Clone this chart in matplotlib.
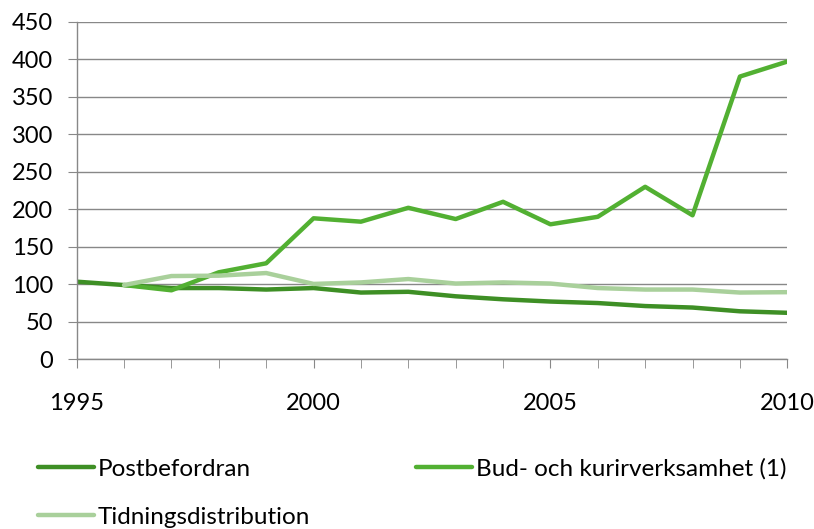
import matplotlib
matplotlib.use('Agg')
import matplotlib.pyplot as plt
from matplotlib.ticker import MultipleLocator

years = list(range(1995, 2011))
post = [103.5, 99, 95, 95, 93, 95, 89, 90, 84, 80, 77, 75, 71, 69, 64, 62]
bud_years = list(range(1996, 2011))
bud = [99, 92, 116, 128, 188, 183.5, 202, 187, 210, 180, 190, 230, 192, 377, 397]
tid_years = list(range(1996, 2011))
tid = [99, 111, 111.5, 115, 100.5, 102.5, 107, 101, 102.5, 101, 95, 93, 93, 89, 89.5]

labels = ['Postbefordran', 'Bud- och kurirverksamhet (1)', 'Tidningsdistribution']
colors = ['#3e8f25', '#52b032', '#a9d09b']

plt.rcParams['font.family'] = ['Lato', 'DejaVu Sans']
fs = 17

fig = plt.figure(figsize=(8.14, 5.29), dpi=100)
ax = fig.add_axes([0.0942, 0.3208, 0.8730, 0.638])

kw = dict(lw=3.2, solid_capstyle='round', solid_joinstyle='round')
l1, = ax.plot(years, post, color=colors[0], label=labels[0], **kw)
l2, = ax.plot(bud_years, bud, color=colors[1], label=labels[1], **kw)
l3, = ax.plot(tid_years, tid, color=colors[2], label=labels[2], **kw)

ax.set_xlim(1995, 2010)
ax.set_ylim(0, 450)
ax.yaxis.set_major_locator(MultipleLocator(50))
ax.xaxis.set_major_locator(MultipleLocator(5))
ax.xaxis.set_minor_locator(MultipleLocator(1))
ax.grid(axis='y', color='#888888', lw=1)
ax.set_axisbelow(True)

for s in ['top', 'right']:
    ax.spines[s].set_visible(False)
for s in ['left', 'bottom']:
    ax.spines[s].set_color('#888888')
    ax.spines[s].set_linewidth(1)

ax.tick_params(axis='y', which='major', length=6.5, color='#888888', labelsize=fs, pad=10.5)
ax.tick_params(axis='x', which='both', length=6.5, color='#888888', labelsize=fs, pad=18)

# column-major fill: Post / Tid in col 1, Bud in col 2
fig.legend([l1, l3, l2], [labels[0], labels[2], labels[1]],
           loc='upper left', bbox_to_anchor=(0.0467, 1 - 458 / 529), ncol=2,
           frameon=False, fontsize=17.5, handlelength=2.3, handletextpad=0.16,
           columnspacing=4.36, labelspacing=1.12, borderpad=0, borderaxespad=0)

fig.savefig('out.png', dpi=100)
